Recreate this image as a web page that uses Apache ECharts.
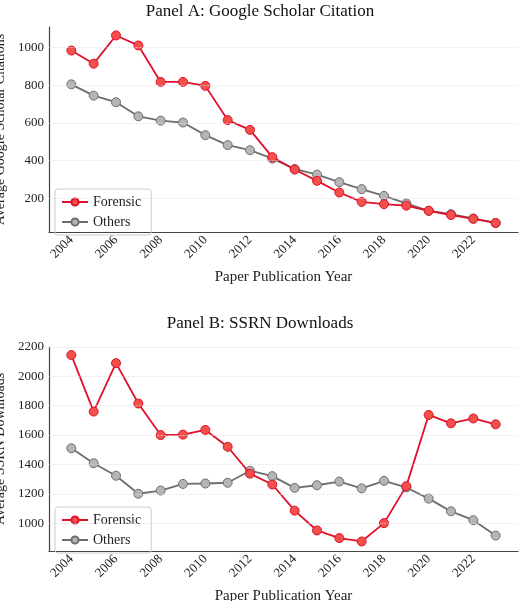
<!DOCTYPE html>
<html><head><meta charset="utf-8">
<script src="https://cdn.jsdelivr.net/npm/echarts@6/dist/echarts.min.js"></script>
<style>html,body{margin:0;background:#fff}#c{width:520px;height:601px}</style>
</head><body><div id="c"></div>
<script>
const years = [2004,2005,2006,2007,2008,2009,2010,2011,2012,2013,2014,2015,2016,2017,2018,2019,2020,2021,2022,2023];
const gsForensic = [985,915,1065,1012,818,818,797,615,563,418,352,292,230,180,168,160,133,110,90,68];
const gsOthers = [805,745,710,635,612,602,535,482,455,410,355,325,285,248,212,172,133,115,92,68];
const ssrnForensic = [2145,1760,2090,1815,1600,1603,1635,1520,1337,1263,1085,950,898,875,1000,1252,1737,1680,1713,1673];
const ssrnOthers = [1510,1408,1323,1200,1222,1267,1270,1275,1357,1320,1240,1258,1283,1237,1288,1243,1167,1080,1020,915];
const gsTicks = [200,400,600,800,1000];
const ssrnTicks = [1000,1200,1400,1600,1800,2000,2200];

const F = 'Liberation Serif';
const chart = echarts.init(document.getElementById('c'));
const pairs = a => years.map((y,i)=>[y,a[i]]);
function xAxis(g){return {type:'value',gridIndex:g,min:2003,max:2024,interval:1,
  axisLine:{lineStyle:{color:'#444',width:1.2}},axisTick:{show:false},splitLine:{show:false},
  axisLabel:{rotate:45,color:'#222',fontFamily:F,fontSize:13,margin:6,formatter:v=>(v%2===0&&v>=2004&&v<=2022)?String(v):''},
  name:'Paper Publication Year',nameLocation:'middle',nameGap:38,nameTextStyle:{fontFamily:F,fontSize:15,color:'#222'}};}
function yAxis(g,min,max,name){return {type:'value',gridIndex:g,min:min,max:max,interval:10,
  axisLine:{show:true,lineStyle:{color:'#444',width:1.2}},axisTick:{show:false},splitLine:{show:false},
  axisLabel:{color:'#222',fontFamily:F,fontSize:13,margin:5,formatter:v=>(v%200===0)?String(v):''},
  name:name,nameLocation:'middle',nameGap:35,nameTextStyle:{fontFamily:F,fontSize:14,color:'#222'}};}
function grid(ticks){return {silent:true,symbol:'none',label:{show:false},lineStyle:{color:'#ddd',type:'dashed',width:0.6},data:ticks.map(t=>({yAxis:t}))};}
function ser(name,data,g,color,fill,ml){const s={name:name,type:'line',xAxisIndex:g,yAxisIndex:g,data:pairs(data),
  symbol:'circle',symbolSize:9,lineStyle:{color:color,width:1.8},itemStyle:{color:fill,borderColor:color,borderWidth:1},z:name==='Forensic'?3:2};
  if(ml) s.markLine=ml; return s;}
const RED='#e0102a', RF='#f2504a', GR='#6e6e6e', GF='#b5b5b5';
function leg(top){return {left:55,top:top,orient:'vertical',itemGap:6,itemWidth:26,itemHeight:9,borderColor:'#ccc',borderWidth:1,borderRadius:3,padding:[6,10,6,6],
    textStyle:{fontFamily:F,fontSize:14,color:'#222'},data:['Forensic','Others']};}
chart.setOption({
  animation:false,
  title:[{text:'Panel A: Google Scholar Citation',left:'center',top:-2,textStyle:{fontFamily:F,fontSize:17,fontWeight:'normal',color:'#111'}},
         {text:'Panel B: SSRN Downloads',left:'center',top:310,textStyle:{fontFamily:F,fontSize:17,fontWeight:'normal',color:'#111'}}],
  grid:[{left:49,right:2,top:27,height:205,containLabel:false,outerBoundsMode:'none'},
        {left:49,right:2,top:347,height:204,containLabel:false,outerBoundsMode:'none'}],
  xAxis:[xAxis(0),xAxis(1)],
  yAxis:[yAxis(0,20,1110,'Average Google Scholar Citations'),yAxis(1,810,2200,'Average SSRN Downloads')],
  legend:[leg(189),leg(507)],
  series:[ser('Forensic',gsForensic,0,RED,RF,grid(gsTicks)),ser('Others',gsOthers,0,GR,GF),
          ser('Forensic',ssrnForensic,1,RED,RF,grid(ssrnTicks)),ser('Others',ssrnOthers,1,GR,GF)]
});
</script></body></html>
